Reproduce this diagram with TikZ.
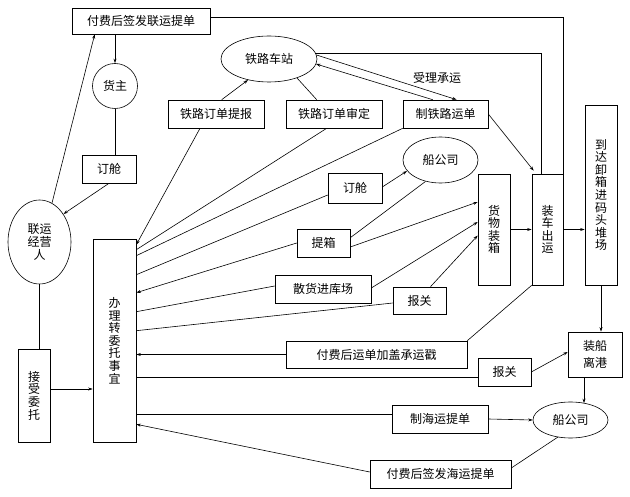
\documentclass[tikz,border=0pt]{standalone}
\usepackage{fontspec}
\setmainfont{Noto Sans CJK SC}
\usetikzlibrary{shapes.geometric,arrows.meta,calc}
\begin{document}
\begin{tikzpicture}[x=1pt,y=-1pt, line width=0.6pt,
  every node/.style={font=\fontsize{12pt}{12.6pt}\selectfont, inner sep=0pt, align=center},
  bx/.style n args={2}{draw, rectangle, minimum width=#1pt, minimum height=#2pt},
  el/.style n args={2}{draw, ellipse, minimum width=#1pt, minimum height=#2pt},
  arr/.style={-{Stealth[length=4.5pt,width=3pt]}}]
\fill[white] (0,0) rectangle (630,497);
\useasboundingbox (0,0) rectangle (630,497);

% nodes
\node[bx={138}{26}] (fl) at (141,21) {付费后签发联运提单};
\node[draw, circle, minimum size=45pt] (hz) at (115,86) {货主};
\node[bx={54}{28}] (dc1) at (109,169) {订舱};
\node[el={63}{84}] (ly) at (39.5,242) {联运\\经营\\人};
\node[bx={32}{93}] (js) at (34,395.5) {接\\受\\委\\托};
\node[bx={43}{203}] (bl) at (114.5,340.5) {办\\理\\转\\委\\托\\事\\宜};
\node[el={96}{46}] (tl) at (269,59) {铁路车站};
\node[bx={96}{28}] (tb) at (216,114) {铁路订单提报};
\node[bx={96}{28}] (ts) at (334,114) {铁路订单审定};
\node[bx={85}{28}] (zt) at (445.5,114) {制铁路运单};
\node (sl) at (437,78) {受理承运};
\node[el={75}{46}] (cg1) at (440.5,160) {船公司};
\node[bx={54}{30}] (dc2) at (355,188) {订舱};
\node[bx={53}{28}] (tx) at (323.5,243) {提箱};
\node[bx={96}{28}] (sh) at (323,289) {散货进库场};
\node[bx={53}{27}] (bg1) at (419.5,300.5) {报关};
\node[bx={32}{111}] (hw) at (494,229.5) {货\\物\\装\\箱};
\node[bx={31}{111}] (zc) at (547.5,229.5) {装\\车\\出\\运};
\node[bx={32}{180}] (dd) at (601,195) {到\\达\\卸\\箱\\进\\码\\头\\堆\\场};
\node[bx={54}{45}, font=\fontsize{12pt}{17pt}\selectfont] (zcl) at (595,354.5) {装船\\离港};
\node[bx={181}{27}] (fy) at (376.5,354.5) {付费后运单加盖承运戳};
\node[bx={53}{28}] (bg2) at (504.5,372) {报关};
\node[bx={96}{28}] (zh) at (440,419) {制海运提单};
\node[el={75}{36}] (cg2) at (570.5,420) {船公司};
\node[bx={141}{28}] (fh) at (440.5,474) {付费后签发海运提单};

% left part
\draw[arr] ($(ly.center)+(12.5,-39)$) -- ($(fl.south west)+(23,0)$);
\draw[arr] (hz.north |- fl.south) -- (hz.north);
\draw (hz.south) -- (hz.south |- dc1.north);
\draw[arr] (dc1.south) -- ($(ly.center)+(24,-28)$);
\draw (ly.south) -- (ly.south |- js.north);
\draw[arr] ($(js.east)+(0,-6.5)$) -- ($(bl.west)+(0,48.5)$);

% railway
\draw[arr] ($(tb.north west)+(54,0)$) -- ($(tl.center)+(-21,21)$);
\draw ($(tl.center)+(28,19)$) -- ($(ts.north west)+(31,0)$);
\draw[arr] ($(tl.center)+(47.5,-4)$) -- ($(zt.north west)+(54,0)$);
\draw[arr] ($(zt.north west)+(30,0)$) -- ($(tl.center)+(47,5)$);
\draw ($(tl.center)+(46,-6)$) -| ($(zc.north west)+(10,0)$);
\draw ($(fl.east)+(0,-4)$) -| (zc.north east);
\draw[arr] (zt.east) -- ($(zc.north west)+(2,-3)$);

% fan into bl
\draw[arr] ($(tb.south)+(-16,0)$) -- ($(bl.north east)+(0,6)$);
\draw ($(ts.south west)+(41,0)$) -- ($(bl.north east)+(0,11)$);
\draw (zt.south west) -- ($(bl.north east)+(0,17)$);
\draw ($(dc2.west)+(0,7)$) -- ($(bl.north east)+(0,36)$);
\draw[arr] (tx.west) -- ($(bl.north east)+(0,54)$);
\draw ($(sh.west)+(0,-3)$) -- ($(bl.north east)+(0,73)$);
\draw ($(bg1.west)+(0,2.5)$) -- ($(bl.north east)+(0,92)$);

% middle
\draw[arr] ($(dc2.east)+(0,-1)$) -- ($(cg1.center)+(-33.5,11)$);
\draw ($(tx.north east)+(0,9)$) -- ($(cg1.center)+(-15,21.5)$);
\draw[arr] ($(tx.east)+(0,4)$) -- ($(hw.west)+(0,-27.5)$);
\draw[arr] ($(sh.east)+(0,-1)$) -- ($(hw.west)+(0,-7.5)$);
\draw[arr] ($(bg1.north)+(11,0)$) -- ($(hw.west)+(0,6)$);
\draw[arr] (hw.east) -- (zc.west);
\draw[arr] (zc.east) -- (dd.west |- zc.east);
\draw[arr] (dd.south) -- (dd.south |- zcl.north);
\draw[arr] ($(zcl.south)+(-11,0)$) -- ($(cg2.center)+(13.5,-16.8)$);

% lower
\draw (zc.south west) -- (fy.north east);
\draw[arr] (fy.west) -- (bl.east |- fy.west);
\draw ($(bg2.west)+(0,5)$) -- (bl.east |- {$(bg2.west)+(0,5)$});
\draw[arr] (bg2.east) -- ($(zcl.west)+(0,-2.5)$);
\draw ($(zh.west)+(0,-5)$) -- (bl.east |- {$(zh.west)+(0,-5)$});
\draw[arr] (zh.east) -- (cg2.west);
\draw ($(cg2.center)+(-12.5,17)$) -- ($(fh.east)+(0,-6)$);
\draw[arr] ($(fh.west)+(0,-2)$) -- ($(bl.south east)+(0,-18)$);
\end{tikzpicture}
\end{document}
